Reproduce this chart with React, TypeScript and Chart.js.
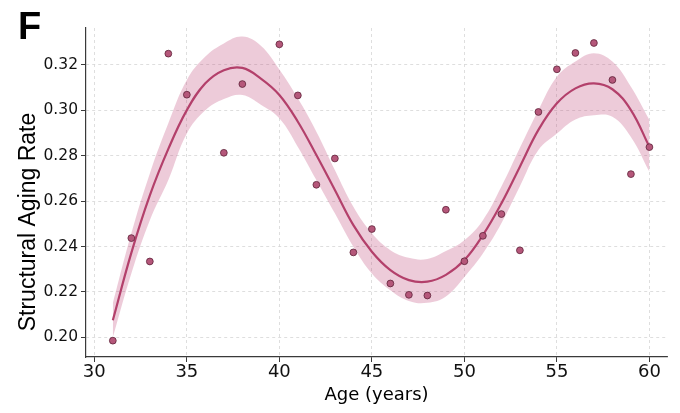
import { useEffect, useRef } from "react";
import { Chart, registerables } from "chart.js";

Chart.register(...registerables);

// observed samples
const sampleAges = [31, 32, 33, 34, 35, 37, 38, 40, 41, 42, 43, 44, 45, 46, 47, 48, 49, 50, 51, 52, 53, 54, 55, 56, 57, 58, 59, 60];
const sampleRates = [
  0.1985, 0.2437, 0.2334, 0.325, 0.3069, 0.2813, 0.3116, 0.3291, 0.3066, 0.2672, 0.2788, 0.2374, 0.2477, 0.2237,
  0.2187, 0.2184, 0.2562, 0.2335, 0.2447, 0.2543, 0.2383, 0.2993, 0.3181, 0.3253, 0.3297, 0.3134, 0.2719, 0.2838,
];

// fitted curve and its band, read at whole years
const fitAges = [31, 32, 33, 34, 35, 36, 37, 38, 39, 40, 41, 42, 43, 44, 45, 46, 47, 48, 49, 50, 51, 52, 53, 54, 55, 56, 57, 58, 59, 60];
const fitMean = [
  0.2075, 0.2372, 0.2625, 0.283, 0.3001, 0.3119, 0.3177, 0.3187, 0.314, 0.3068, 0.295, 0.2803, 0.2649, 0.2494, 0.2377,
  0.2296, 0.2252, 0.2245, 0.2275, 0.234, 0.245, 0.259, 0.2752, 0.2914, 0.3031, 0.3097, 0.3119, 0.3093, 0.3001, 0.2839,
];
const fitLower = [
  0.2, 0.2281, 0.2516, 0.2693, 0.2898, 0.3, 0.305, 0.3068, 0.3025, 0.2965, 0.2839, 0.2693, 0.2546, 0.2399, 0.2281,
  0.2207, 0.216, 0.2152, 0.218, 0.2266, 0.2369, 0.2502, 0.2665, 0.2825, 0.2898, 0.296, 0.2979, 0.2972, 0.2883, 0.2729,
];
const fitUpper = [
  0.215, 0.2458, 0.2722, 0.2943, 0.3134, 0.3237, 0.3295, 0.3325, 0.3285, 0.318, 0.3053, 0.2906, 0.2737, 0.2575, 0.2458,
  0.2384, 0.235, 0.2345, 0.238, 0.2428, 0.2516, 0.2664, 0.2835, 0.3001, 0.3148, 0.3215, 0.3252, 0.3215, 0.3104, 0.2957,
];

const xTicks = [30, 35, 40, 45, 50, 55, 60];
const yTicks = [0.2, 0.22, 0.24, 0.26, 0.28, 0.3, 0.32];

const panelLetter = "F";
const xTitle = "Age (years)";
const yTitle = "Structural Aging Rate";

const pts = (xs: number[], ys: number[]) => xs.map((x, i) => ({ x, y: ys[i] }));

const textPlugin = {
  id: "panelText",
  afterDraw(chart: Chart) {
    const ctx = chart.ctx;
    ctx.save();
    ctx.fillStyle = "#000";
    ctx.font = "bold 38px 'Liberation Sans'";
    ctx.textBaseline = "alphabetic";
    ctx.fillText(panelLetter, 18, 39);
    ctx.translate(35, 222);
    ctx.rotate(-Math.PI / 2);
    ctx.font = "23px 'Liberation Sans'";
    ctx.textAlign = "center";
    ctx.fillText(yTitle, 0, 0);
    ctx.restore();
  },
};

function AgingChart() {
  const canvasRef = useRef<HTMLCanvasElement | null>(null);
  useEffect(() => {
    document.body.style.margin = "0";
    const ctx = canvasRef.current?.getContext("2d");
    if (!ctx) return;
    const gridColor = "#d6d6d6";
    const axisColor = "#3a3a3a";
    const chart = new Chart(ctx, {
      type: "line",
      data: {
        datasets: [
          {
            data: pts(sampleAges, sampleRates),
            showLine: false,
            pointRadius: 3.4,
            pointBackgroundColor: "#b5577a",
            pointBorderColor: "#5e2238",
            pointBorderWidth: 0.8,
            order: 0,
          },
          {
            data: pts(fitAges, fitMean),
            borderColor: "#b3406b",
            borderWidth: 2.2,
            pointRadius: 0,
            tension: 0.4,
            order: 1,
          },
          {
            data: pts(fitAges, fitLower),
            borderWidth: 0,
            pointRadius: 0,
            fill: false,
            tension: 0.4,
            order: 3,
          },
          {
            data: pts(fitAges, fitUpper),
            borderWidth: 0,
            pointRadius: 0,
            fill: "-1",
            backgroundColor: "rgba(190, 70, 120, 0.28)",
            tension: 0.4,
            order: 2,
          },
        ],
      },
      options: {
        responsive: false,
        animation: false,
        events: [],
        layout: { padding: { top: 28, right: 13, left: 0, bottom: 0 } },
        plugins: {
          legend: { display: false },
          tooltip: { enabled: false },
        },
        scales: {
          x: {
            type: "linear",
            min: 29.55,
            max: 60.95,
            afterBuildTicks: (s) => {
              s.ticks = xTicks.map((value) => ({ value }));
            },
            afterFit: (s) => {
              s.height = 56;
            },
            ticks: {
              padding: 0,
              color: "#111",
              font: { family: "DejaVu Sans", size: 18 },
              callback: (v) => String(v),
            },
            grid: {
              color: gridColor,
              lineWidth: 0.8,
              tickColor: axisColor,
              tickLength: 5,
              tickWidth: 1,
            },
            border: { display: true, color: axisColor, width: 1.2, dash: [3, 3] },
            title: {
              display: true,
              text: xTitle,
              color: "#000",
              font: { family: "DejaVu Sans", size: 18 },
              padding: { top: 0, bottom: 7 },
            },
          },
          y: {
            type: "linear",
            min: 0.1913,
            max: 0.3363,
            afterBuildTicks: (s) => {
              s.ticks = yTicks.map((value) => ({ value }));
            },
            afterFit: (s) => {
              s.width = 86;
            },
            ticks: {
              padding: 3,
              color: "#111",
              font: { family: "DejaVu Sans", size: 15.5 },
              callback: (v) => Number(v).toFixed(2),
            },
            grid: {
              color: gridColor,
              lineWidth: 0.8,
              tickColor: axisColor,
              tickLength: 5,
              tickWidth: 1,
            },
            border: { display: true, color: axisColor, width: 1.2, dash: [3, 3] },
          },
        },
      },
      plugins: [textPlugin],
    });
    return () => chart.destroy();
  }, []);
  return (
    <div style={{ width: 680, height: 413 }}>
      <canvas ref={canvasRef} width={680} height={413}></canvas>
    </div>
  );
}

export default function App() {
  return <AgingChart />;
}
